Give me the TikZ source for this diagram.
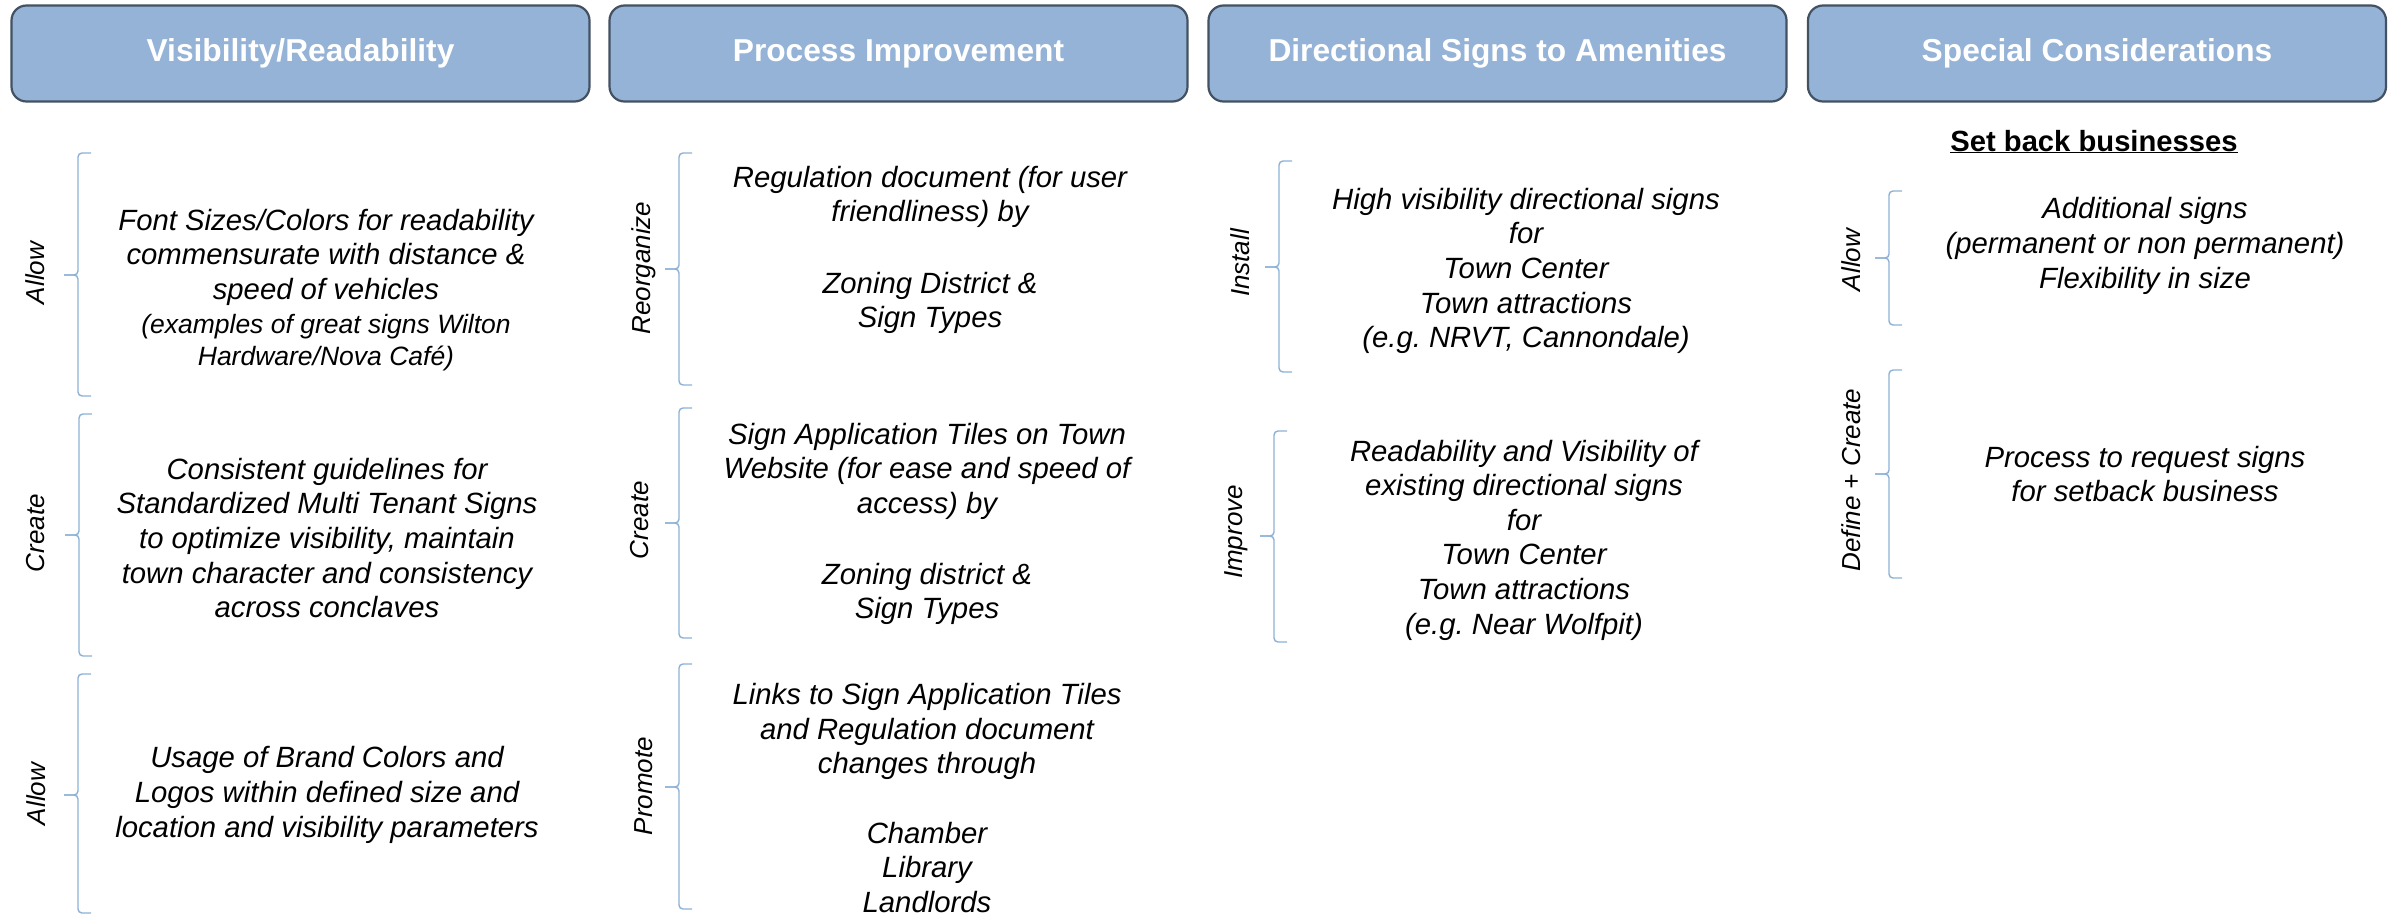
\documentclass[tikz,border=0pt]{standalone}
\usepackage{fontspec}
\setmainfont{Liberation Sans}
\frenchspacing
\definecolor{headfill}{RGB}{149,179,215}
\definecolor{headline}{RGB}{66,82,98}
\definecolor{bracecol}{RGB}{140,176,214}
\newcommand{\smalltxt}[1]{{\fontsize{26.5bp}{31.7bp}\selectfont #1}}
% x, top, tick, bottom
\newcommand{\sidebrace}[4]{%
  \draw[brc] (#1+13,#2) -- (#1,#2) -- (#1,#3) -- (#1-14,#3);
  \draw[brc] (#1+13,#4) -- (#1,#4) -- (#1,#3) -- (#1-14,#3);}
\tikzset{
  head/.style={draw=headline, fill=headfill, line width=2.2bp, rounded corners=15bp,
    minimum width=578bp, minimum height=96bp, text=white,
    font=\fontsize{31.7bp}{38bp}\selectfont\bfseries},
  item/.style={align=center, inner sep=0pt, font=\fontsize{29.3bp}{34.6bp}\selectfont\itshape},
  verb/.style={rotate=90, inner sep=0pt, font=\fontsize{26bp}{31bp}\selectfont\itshape},
  brc/.style={draw=bracecol, line width=1.4bp, rounded corners=4bp},
}
\begin{document}
\begin{tikzpicture}[x=1bp, y=-1bp]
\useasboundingbox (0,0) rectangle (2392,916);
% headers
\draw (300.5,53.5) node[head] (h1) {Visibility/Readability};
\draw (898.5,53.5) node[head] (h2) {Process Improvement};
\draw (1497.5,53.5) node[head] (h3) {Directional Signs to Amenities};
\draw (2097,53.5) node[head] (h4) {Special Considerations};
% visibility/readability
\sidebrace{78}{153}{275}{396}
\draw (35,273) node[verb] (v1a) {Allow};
\draw (326,290) node[item] (v1) {Font Sizes/Colors for readability\\commensurate with distance \&\\speed of vehicles\\\smalltxt{(examples of great signs Wilton}\\[-3bp]\smalltxt{Hardware/Nova Café)}};
\sidebrace{79}{414}{535}{656}
\draw (36,533) node[verb] (v2a) {Create};
\draw (327,538) node[item] (v2) {Consistent guidelines for\\Standardized Multi Tenant Signs\\to optimize visibility, maintain\\town character and consistency\\across conclaves};
\sidebrace{78}{674}{795}{913}
\draw (36,794) node[verb] (v3a) {Allow};
\draw (327,795) node[item] (v3) {Usage of Brand Colors and\\Logos within defined size and\\location and visibility parameters};
% process improvement
\sidebrace{679}{153}{269}{385}
\draw (644,268) node[verb] (p1a) {Reorganize};
\draw (930,250) node[item] (p1) {Regulation document (for user\\friendliness) by\\[37bp]Zoning District \&\\Sign Types};
\sidebrace{679}{408}{523}{638}
\draw (640,520) node[verb] (p2a) {Create};
\draw (927,524) node[item] (p2) {Sign Application Tiles on Town\\Website (for ease and speed of\\access) by\\[36bp]Zoning district \&\\Sign Types};
\sidebrace{679}{664}{787}{909}
\draw (644,786) node[verb] (p3a) {Promote};
\draw (927,798) node[item] (p3) {Links to Sign Application Tiles\\and Regulation document\\changes through\\[35bp]Chamber\\Library\\Landlords};
% directional signs
\sidebrace{1279}{161}{267}{372}
\draw (1240,263) node[verb] (d1a) {Install};
\draw (1526,271) node[item] (d1) {High visibility directional signs\\for\\Town Center\\Town attractions\\(e.g. NRVT, Cannondale)};
\sidebrace{1274}{431}{536}{642}
\draw (1236,532) node[verb] (d2a) {Improve};
\draw (1524,540) node[item] (d2) {Readability and Visibility of\\existing directional signs\\for\\Town Center\\Town attractions\\(e.g. Near Wolfpit)};
% special considerations
\draw (2094,151) node[anchor=base, inner sep=0pt, font=\fontsize{29.2bp}{35bp}\selectfont\bfseries] (sb) {\underline{Set back businesses}};
\sidebrace{1889}{191}{258}{325}
\draw (1851,260) node[verb] (s1a) {Allow};
\draw (2145,246) node[item] (s1) {Additional signs\\(permanent or non permanent)\\Flexibility in size};
\sidebrace{1889}{370}{474}{578}
\draw (1851,480) node[verb] (s2a) {Define + Create};
\draw (2145,474) node[item] (s2) {Process to request signs\\for setback business};
\end{tikzpicture}
\end{document}
